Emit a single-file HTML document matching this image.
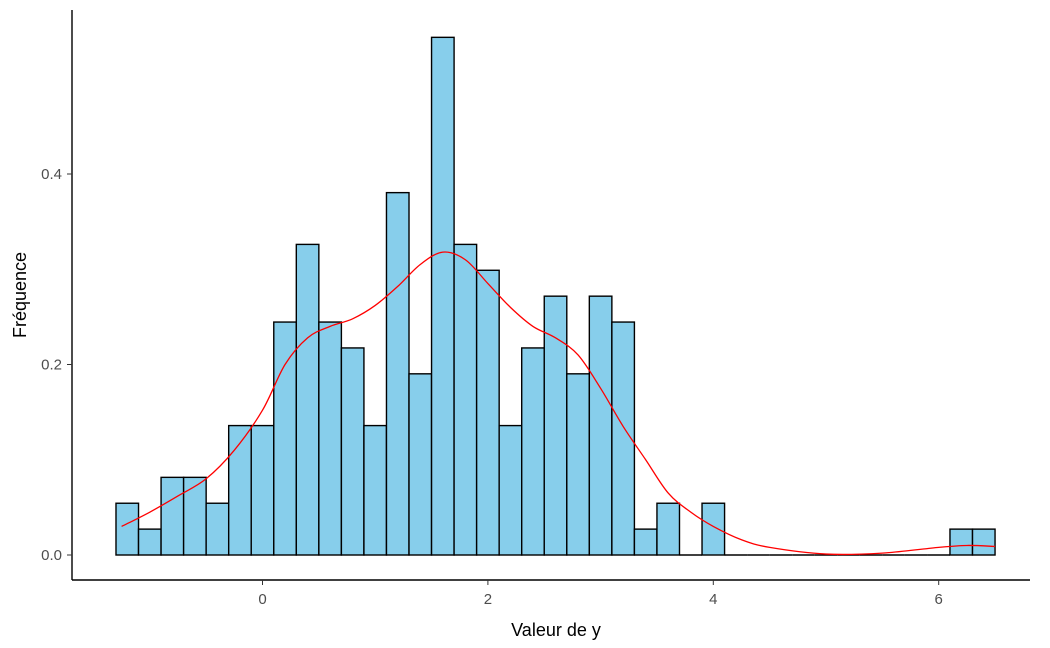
<!DOCTYPE html>
<html><head><meta charset="utf-8"><style>
body{margin:0;background:#fff;}
svg{display:block;font-family:"Liberation Sans",Arial,sans-serif;}
</style></head><body>
<svg id="chart" width="1050" height="648">
<g id="bars"></g>
<path id="dens" fill="none" stroke="#ff0000" stroke-width="1.3"/>
<line x1="72" y1="10" x2="72" y2="580" stroke="#000" stroke-width="1.4"/>
<line x1="72" y1="580" x2="1030" y2="580" stroke="#000" stroke-width="1.4"/>
<g id="xt"></g>
<g id="yt"></g>
<text x="556" y="636" text-anchor="middle" font-size="18" fill="#000">Valeur de y</text>
<text transform="translate(26,295) rotate(-90)" text-anchor="middle" font-size="18" fill="#000">Fréquence</text>
</svg>
<script>
const binStart = -1.3;
const binWidth = 0.2;
const counts = [2,1,3,3,2,5,5,9,12,9,8,5,14,7,20,12,11,5,8,10,7,10,9,1,2,0,2,0,0,0,0,0,0,0,0,0,0,1,1];
const total = 184;
const densX = [-1.25,-1,-0.75,-0.5,-0.25,0,0.2,0.4,0.6,0.8,1.0,1.2,1.4,1.6,1.8,2.0,2.2,2.4,2.6,2.8,3.0,3.2,3.4,3.6,3.8,4.0,4.25,4.5,5.0,5.5,6.0,6.25,6.5];
const densY = [0.03,0.045,0.062,0.08,0.11,0.152,0.2,0.228,0.24,0.248,0.262,0.282,0.305,0.318,0.31,0.285,0.26,0.24,0.228,0.21,0.175,0.135,0.1,0.065,0.045,0.03,0.016,0.008,0.001,0.002,0.008,0.01,0.009];
const xTicks = [0,2,4,6];
const yTicks = [0,0.2,0.4];
const yTickLabels = ["0.0","0.2","0.4"];
const X = v => 262.5 + v*112.7;
const Y = v => 555 - v*952.5;
const NS = "http://www.w3.org/2000/svg";
const bars = document.getElementById('bars');
counts.forEach((c,i)=>{
  if(c===0){
    const l=document.createElementNS(NS,'line');
    
    
    l.setAttribute('x1',X(binStart+i*binWidth));l.setAttribute('x2',X(binStart+(i+1)*binWidth));
    l.setAttribute('y1',Y(0));l.setAttribute('y2',Y(0));l.setAttribute('stroke','#000');l.setAttribute('stroke-width','1.4');
    bars.appendChild(l);return;
  }
  const d=c/(total*binWidth);
  const r=document.createElementNS(NS,'rect');
  
  
  const x0=X(binStart+i*binWidth), x1=X(binStart+(i+1)*binWidth);
  r.setAttribute('x',x0);r.setAttribute('width',x1-x0);
  r.setAttribute('y',Y(d));r.setAttribute('height',Y(0)-Y(d));
  r.setAttribute('fill','#87ceeb');r.setAttribute('stroke','#000');r.setAttribute('stroke-width','1.4');
  bars.appendChild(r);
});
// smooth curve via Catmull-Rom
(function(){
  const p=densX.map((x,i)=>[X(x),Y(densY[i])]);
  let d='M'+p[0][0]+','+p[0][1];
  for(let i=0;i<p.length-1;i++){
    const p0=p[Math.max(0,i-1)],p1=p[i],p2=p[i+1],p3=p[Math.min(p.length-1,i+2)];
    const c1=[p1[0]+(p2[0]-p0[0])/6,p1[1]+(p2[1]-p0[1])/6];
    const c2=[p2[0]-(p3[0]-p1[0])/6,p2[1]-(p3[1]-p1[1])/6];
    d+=' C'+c1[0]+','+c1[1]+' '+c2[0]+','+c2[1]+' '+p2[0]+','+p2[1];
  }
  document.getElementById('dens').setAttribute('d',d);
})();
const xt=document.getElementById('xt');
xTicks.forEach(v=>{
  const l=document.createElementNS(NS,'line');
  
  
  l.setAttribute('x1',X(v));l.setAttribute('x2',X(v));l.setAttribute('y1',580);l.setAttribute('y2',585);l.setAttribute('stroke','#333');
  xt.appendChild(l);
  const t=document.createElementNS(NS,'text');
  
  
  t.setAttribute('x',X(v));t.setAttribute('y',604);t.setAttribute('text-anchor','middle');t.setAttribute('font-size','15');t.setAttribute('fill','#4d4d4d');
  t.textContent=v;xt.appendChild(t);
});
const yt=document.getElementById('yt');
yTicks.forEach((v,i)=>{
  const l=document.createElementNS(NS,'line');
  
  
  l.setAttribute('x1',67);l.setAttribute('x2',72);l.setAttribute('y1',Y(v));l.setAttribute('y2',Y(v));l.setAttribute('stroke','#333');
  yt.appendChild(l);
  const t=document.createElementNS(NS,'text');
  
  
  t.setAttribute('x',62);t.setAttribute('y',Y(v)+5);t.setAttribute('text-anchor','end');t.setAttribute('font-size','15');t.setAttribute('fill','#4d4d4d');
  t.textContent=yTickLabels[i];yt.appendChild(t);
});
</script>
</body></html>
